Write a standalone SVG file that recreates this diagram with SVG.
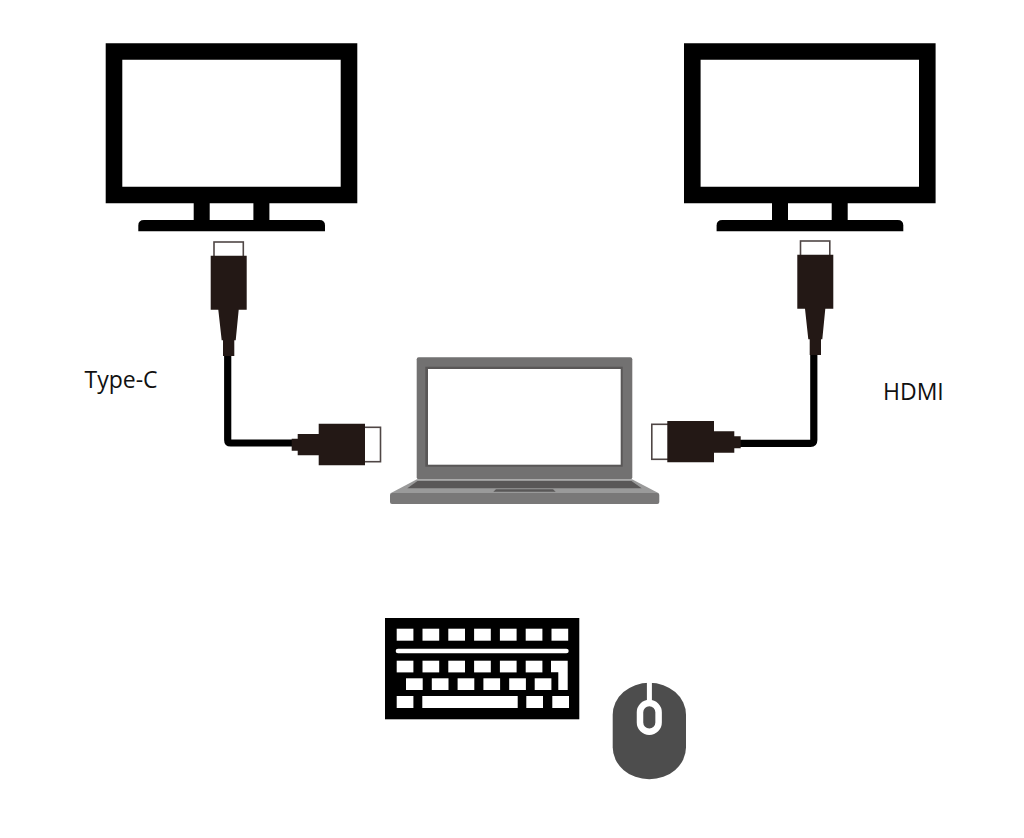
<svg xmlns="http://www.w3.org/2000/svg" width="1024" height="838" viewBox="0 0 1024 838">
<style>
.k{fill:#000}.w{fill:#fff}.plug{fill:#231815}.tip{fill:#fff;stroke:#4f4645;stroke-width:1.6}
.wire{fill:none;stroke:#000;stroke-width:7.2;stroke-linejoin:round}
text{font-family:"Open Sans","Noto Sans","Liberation Sans",sans-serif;font-size:23px;fill:#111}
</style>
<defs>
<g id="monitor">
<path class="k" fill-rule="evenodd" d="M105.7 43.3H357.3V203.3H105.7ZM122.3 59.7V186.7H340.7V59.7Z"/>
<rect class="k" x="193.7" y="203" width="16" height="18"/>
<rect class="k" x="253.4" y="203" width="16" height="18"/>
<path class="k" d="M138.3 231.3V225.5Q138.3 220 144 220H319.5Q325 220 325 225.5V231.3Z"/>
</g>
</defs>
<rect width="1024" height="838" fill="#fff"/>
<g id="monitor-left"><use href="#monitor"/></g>
<g id="monitor-right"><use href="#monitor" x="578.3"/></g>
<g id="connectors">
<path class="wire" d="M227.7 354V440Q227.7 443 230.7 443H293"/>
<path class="wire" d="M813.8 353V440Q813.8 443.3 810.5 443.3H739"/>
</g>
<g id="plug-left-top">
<rect class="tip" x="214" y="242" width="29.3" height="15"/>
<path class="plug" d="M210.7 255.7H246.7V309.7H238.7L235.7 340.3H234.3V356H223V340.3H221.7L218.3 309.7H210.7Z"/>
</g>
<g id="plug-left-bottom">
<rect class="tip" x="363" y="427.3" width="17.5" height="34.4"/>
<path class="plug" d="M291.7 438.7H297.7V434H318.7V423.7H365V465.3H318.7V455.3H297.7V450.7H291.7Z"/>
</g>
<g id="plug-right-top">
<rect class="tip" x="800.5" y="241" width="29.3" height="15"/>
<path class="plug" d="M797.3 254.7H833.3V308.7H825.3L822.3 339.3H821V355H809.7V339.3H808.3L805 308.7H797.3Z"/>
</g>
<g id="plug-right-bottom">
<rect class="tip" x="651.8" y="424.3" width="17.5" height="35"/>
<path class="plug" d="M667.3 421H714V431.3H734.3V436.3H740.7V448.3H734.3V452.7H714V462.3H667.3Z"/>
</g>
<g id="laptop">
<rect x="416.7" y="357.3" width="215.6" height="122" rx="2" fill="#727171"/>
<rect x="425.3" y="366.7" width="197.4" height="100" fill="#595757"/>
<rect x="428" y="369" width="192.7" height="95.7" fill="#fff"/>
<path d="M417 479.3H632L659.3 493.5H390Z" fill="#9a9a9a"/>
<path d="M417.5 481H631.5L641.7 488.3H407.3Z" fill="#595757"/>
<path d="M493.3 491.7L496 489.3H553L555.7 491.7Z" fill="#595757"/>
<rect x="390" y="493" width="269.3" height="11" rx="2" fill="#797878"/>
</g>
<g id="keyboard">
<rect class="k" x="385" y="618" width="194.3" height="101.3"/>
<g class="w">
<rect x="396.7" y="628.7" width="16.7" height="12"/><rect x="422.5" y="628.7" width="16.7" height="12"/><rect x="448.3" y="628.7" width="16.7" height="12"/><rect x="474.1" y="628.7" width="16.7" height="12"/><rect x="499.9" y="628.7" width="16.7" height="12"/><rect x="525.7" y="628.7" width="16.7" height="12"/><rect x="551.5" y="628.7" width="16.7" height="12"/>
<rect x="395.7" y="648.7" width="173" height="4.6" rx="2.3"/>
<rect x="396.7" y="660.7" width="16.7" height="11.7"/><rect x="422.5" y="660.7" width="16.7" height="11.7"/><rect x="448.3" y="660.7" width="16.7" height="11.7"/><rect x="474.1" y="660.7" width="16.7" height="11.7"/><rect x="499.9" y="660.7" width="16.7" height="11.7"/><rect x="525.7" y="660.7" width="16.7" height="11.7"/>
<path d="M551 660.7H567.7V690H558.3V672.3H551Z"/>
<rect x="406" y="678.3" width="16.7" height="11.7"/><rect x="431.8" y="678.3" width="16.7" height="11.7"/><rect x="457.6" y="678.3" width="16.7" height="11.7"/><rect x="483.4" y="678.3" width="16.7" height="11.7"/><rect x="509.2" y="678.3" width="16.7" height="11.7"/><rect x="534.7" y="678.3" width="16.7" height="11.7"/>
<rect x="396.7" y="696" width="16.7" height="12"/><rect x="422.3" y="696" width="95.4" height="12"/><rect x="526.3" y="696" width="16.7" height="12"/><rect x="552.3" y="696" width="16.7" height="12"/>
</g>
</g>
<g id="mouse">
<rect x="612.7" y="682.7" width="73.3" height="96.6" rx="36.65" ry="32" fill="#4d4d4d"/>
<rect class="w" x="646.9" y="681" width="5" height="21"/>
<rect x="640" y="703" width="18.6" height="28.7" rx="9.3" fill="none" stroke="#fff" stroke-width="6.5"/>
</g>
<g id="label-type-c"><text x="84.5" y="388">Type-C</text></g>
<g id="label-hdmi"><text x="883" y="399.5">HDMI</text></g>
</svg>
